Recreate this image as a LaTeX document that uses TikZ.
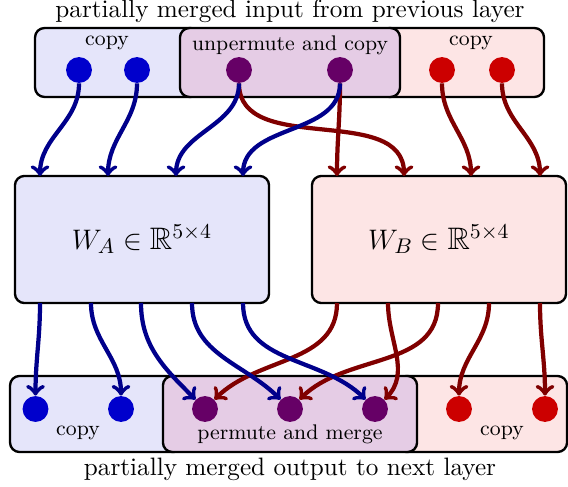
\documentclass[tikz,border=0pt]{standalone}
\usepackage{amsmath}
\usepackage{amssymb}
\usepackage{tikz}

\definecolor{dotA}{RGB}{0,0,204}
\definecolor{lineA}{RGB}{0,0,139}
\definecolor{fillA}{RGB}{229,229,250}
\definecolor{dotB}{RGB}{204,0,0}
\definecolor{lineB}{RGB}{128,0,0}
\definecolor{fillB}{RGB}{253,229,229}
\definecolor{dotM}{RGB}{102,0,102}
\definecolor{fillM}{RGB}{229,204,229}

\tikzset{
	group/.style={draw, line width=1pt, rounded corners=4pt, inner sep=0pt},
	wbox/.style={draw, line width=1pt, rounded corners=4pt, minimum width=108pt, minimum height=54pt, font=\fontsize{13.2pt}{16pt}\selectfont},
	caption/.style={font=\fontsize{10.7pt}{13pt}\selectfont},
	dot/.style={circle, inner sep=0pt, minimum size=11pt},
	wireA/.style={->, >=to, draw=lineA, line width=1.8pt},
	wireB/.style={->, >=to, draw=lineB, line width=1.8pt}
}

\begin{document}
\begin{tikzpicture}[x=0.425pt, y=-0.425pt]
	\useasboundingbox (0,0) rectangle (568,486);

	%Input
	\node[caption] (in) at (290,11) {partially merged input from previous layer};
	\node[group, fill=fillA, minimum width=70.1pt, minimum height=29.3pt] (gA) at (117.5,62.5) {};
	\node[group, fill=fillB, minimum width=69.7pt, minimum height=29.3pt] (gB) at (462,62.5) {};
	\node[group, fill=fillM, minimum width=93.5pt, minimum height=29.3pt] (gM) at (290,62.5) {};
	\node[font=\small] (lA) at (107,43) {copy};
	\node[font=\small] (lM) at (290,45) {unpermute and copy};
	\node[font=\small] (lB) at (471,43) {copy};
	\node[dot, fill=dotA] (a1) at (79,70) {};
	\node[dot, fill=dotA] (a2) at (137,70) {};
	\node[dot, fill=dotM] (m1) at (239,70) {};
	\node[dot, fill=dotM] (m2) at (340,70) {};
	\node[dot, fill=dotB] (b1) at (442,70) {};
	\node[dot, fill=dotB] (b2) at (502,70) {};

	%Weights
	\node[wbox, fill=fillA] (WA) at (142,239.5) {$W_A \in \mathbb{R}^{5\times 4}$};
	\node[wbox, fill=fillB] (WB) at (439,239.5) {$W_B \in \mathbb{R}^{5\times 4}$};
	\coordinate (WA-i1) at (40,176);
	\coordinate (WA-i2) at (108,176);
	\coordinate (WA-i3) at (176,176);
	\coordinate (WA-i4) at (243,176);
	\coordinate (WB-i1) at (337,176);
	\coordinate (WB-i2) at (404,176);
	\coordinate (WB-i3) at (471,176);
	\coordinate (WB-i4) at (540,176);
	\coordinate (WA-o1) at (40,303);
	\coordinate (WA-o2) at (91,303);
	\coordinate (WA-o3) at (141,303);
	\coordinate (WA-o4) at (192,303);
	\coordinate (WA-o5) at (243,303);
	\coordinate (WB-o1) at (337,303);
	\coordinate (WB-o2) at (388,303);
	\coordinate (WB-o3) at (438,303);
	\coordinate (WB-o4) at (489,303);
	\coordinate (WB-o5) at (540,303);

	\draw[wireB] (m1) to[out=-90, in=90] (WB-i2);
	\draw[wireB] (m2) to[out=-90, in=90] (WB-i1);
	\draw[wireB] (b1) to[out=-90, in=90] (WB-i3);
	\draw[wireB] (b2) to[out=-90, in=90] (WB-i4);
	\draw[wireA] (a1) to[out=-90, in=90] (WA-i1);
	\draw[wireA] (a2) to[out=-90, in=90] (WA-i2);
	\draw[wireA] (m1) to[out=-90, in=90] (WA-i3);
	\draw[wireA] (m2) to[out=-90, in=90] (WA-i4);

	%Output
	\node[group, fill=fillA, minimum width=73.5pt, minimum height=32.3pt] (hA) at (96.5,414) {};
	\node[group, fill=fillB, minimum width=72.3pt, minimum height=32.3pt] (hB) at (482,414) {};
	\node[group, fill=fillM, minimum width=108pt, minimum height=32.3pt] (hM) at (290,414) {};
	\node[font=\small] (kA) at (78,433) {copy};
	\node[font=\small] (kM) at (290,434) {permute and merge};
	\node[font=\small] (kB) at (502,433) {copy};
	\node[dot, fill=dotA] (c1) at (35.5,409) {};
	\node[dot, fill=dotA] (c2) at (121,409) {};
	\node[dot, fill=dotM] (p1) at (205,409) {};
	\node[dot, fill=dotM] (p2) at (290,409) {};
	\node[dot, fill=dotM] (p3) at (375,409) {};
	\node[dot, fill=dotB] (d1) at (459,409) {};
	\node[dot, fill=dotB] (d2) at (545,409) {};
	\node[caption] (out) at (290,469) {partially merged output to next layer};

	\draw[wireB] (WB-o1) to[out=-90, in=45] (p1);
	\draw[wireB] (WB-o2) to[out=-90, in=45] (p3);
	\draw[wireB] (WB-o3) to[out=-90, in=45] (p2);
	\draw[wireB] (WB-o4) to[out=-90, in=90] (d1);
	\draw[wireB] (WB-o5) to[out=-90, in=90] (d2);
	\draw[wireA] (WA-o1) to[out=-90, in=90] (c1);
	\draw[wireA] (WA-o2) to[out=-90, in=90] (c2);
	\draw[wireA] (WA-o3) to[out=-90, in=135] (p1);
	\draw[wireA] (WA-o4) to[out=-90, in=135] (p2);
	\draw[wireA] (WA-o5) to[out=-90, in=135] (p3);
\end{tikzpicture}
\end{document}
